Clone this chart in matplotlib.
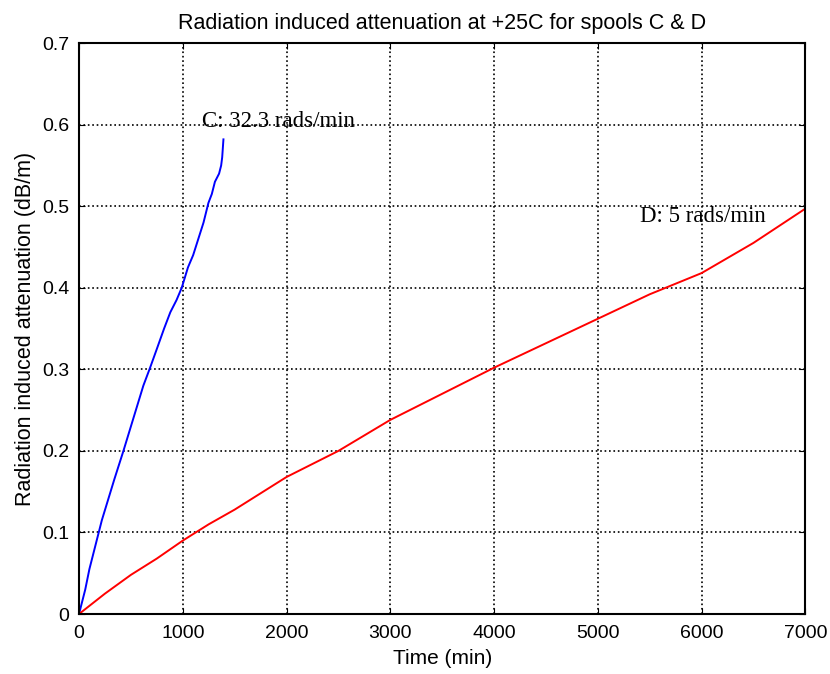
import numpy as np
import matplotlib.pyplot as plt

# spool C (32.3 rads/min)
time_c = [0, 30, 60, 100, 140, 170, 220, 280, 340, 428, 500, 560, 620, 685, 750, 820,
          880, 940, 990, 1050, 1100, 1150, 1200, 1247, 1280, 1310, 1330, 1350, 1370, 1380, 1392]
att_c = [0, 0.015, 0.03, 0.055, 0.075, 0.09, 0.115, 0.14, 0.165, 0.2, 0.23, 0.255, 0.28, 0.302,
         0.325, 0.35, 0.37, 0.385, 0.4, 0.425, 0.44, 0.46, 0.48, 0.504, 0.515, 0.53, 0.535,
         0.54, 0.55, 0.56, 0.582]

# spool D (5 rads/min)
time_d = [0, 100, 250, 500, 750, 1000, 1250, 1500, 1750, 2000, 2500, 3000, 3500, 4000,
          4500, 5000, 5500, 6000, 6500, 7000]
att_d = [0, 0.01, 0.025, 0.048, 0.068, 0.09, 0.11, 0.128, 0.148, 0.168, 0.2, 0.238, 0.27,
         0.302, 0.332, 0.362, 0.392, 0.418, 0.455, 0.497]

fig = plt.figure(figsize=(8.3, 6.74), dpi=100)
ax = fig.add_axes([0.0952, 0.089, 0.875, 0.847])

ax.plot(time_c, att_c, color='blue', lw=1.4)
ax.plot(time_d, att_d, color='red', lw=1.4)

ax.set_xlim(0, 7000)
ax.set_ylim(0, 0.7)
ax.set_xticks(np.arange(0, 7001, 1000))
ax.set_yticks(np.arange(0, 0.71, 0.1))
ax.set_yticklabels(['0', '0.1', '0.2', '0.3', '0.4', '0.5', '0.6', '0.7'])
ax.grid(True, color='black', linestyle=':', lw=1.2)
ax.tick_params(direction='in', top=True, right=True, labelsize=14, length=4)
ax.tick_params(axis='x', pad=8)
ax.tick_params(axis='y', pad=7)
for lab in ax.get_xticklabels() + ax.get_yticklabels():
    lab.set_family('Liberation Sans')
for s in ax.spines.values():
    s.set_linewidth(1.5)

ax.text(1186, 0.604, 'C: 32.3 rads/min', family='Liberation Serif', fontsize=16.5, va='center')
ax.text(5410, 0.488, 'D: 5 rads/min', family='Liberation Serif', fontsize=16.5, va='center')

ax.set_title('Radiation induced attenuation at +25C for spools C & D',
             family='Liberation Sans', fontsize=15.5, pad=10)
ax.set_xlabel('Time (min)', family='Liberation Sans', fontsize=15, labelpad=5)
ax.set_ylabel('Radiation induced attenuation (dB/m)', family='Liberation Sans', fontsize=15.5,
              labelpad=4)

fig.savefig('out.png', dpi=100)
